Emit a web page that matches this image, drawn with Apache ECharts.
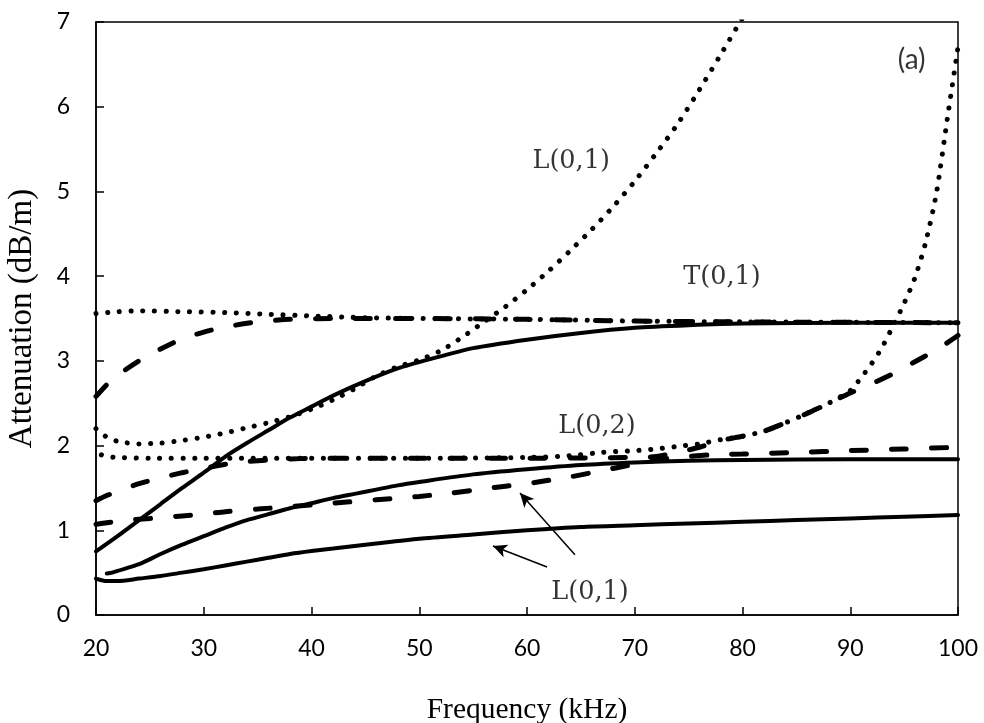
<!DOCTYPE html>
<html>
<head>
<meta charset="utf-8">
<script src="https://cdn.jsdelivr.net/npm/echarts@6/dist/echarts.min.js"></script>
<style>
html,body{margin:0;padding:0;background:#fff;}
#chart{width:984px;height:723px;}
</style>
</head>
<body>
<div id="chart"></div>
<script>
// ---- data (frequency kHz, attenuation dB/m) ----
const xTicks = [20, 30, 40, 50, 60, 70, 80, 90, 100];
const yTicks = [0, 1, 2, 3, 4, 5, 6, 7];

const t01Solid = [[20,0.75],[22,0.93],[24,1.12],[26,1.31],[28,1.5],[30,1.68],[32,1.87],[34,2.03],[36,2.18],[38,2.33],[40,2.46],[42,2.59],[45,2.76],[48,2.91],[51,3.02],[55,3.15],[60,3.25],[65,3.33],[70,3.39],[75,3.42],[80,3.44],[90,3.45],[100,3.45]];
const t01Dash = [[20,2.58],[21,2.72],[22,2.83],[24,3.0],[26,3.14],[28,3.26],[30,3.34],[32,3.4],[35,3.46],[38,3.49],[42,3.5],[50,3.5],[60,3.49],[70,3.47],[80,3.46],[100,3.45]];
const t01Dot = [[20,3.56],[22,3.58],[24,3.59],[28,3.58],[32,3.57],[36,3.55],[40,3.53],[45,3.51],[50,3.5],[60,3.49],[70,3.47],[80,3.46],[100,3.45]];

const l02Solid = [[21,0.49],[21.5,0.5],[22,0.52],[24,0.6],[26,0.72],[28,0.83],[30,0.93],[32,1.03],[34,1.12],[36,1.19],[38,1.26],[40,1.32],[42,1.38],[44,1.43],[46,1.48],[48,1.53],[50,1.57],[55,1.66],[60,1.72],[65,1.77],[70,1.8],[75,1.82],[80,1.83],[90,1.84],[100,1.84]];
const l02Dash = [[20,1.35],[21,1.41],[22,1.46],[24,1.55],[26,1.62],[28,1.68],[30,1.73],[32,1.78],[34,1.81],[36,1.83],[38,1.84],[40,1.85],[50,1.85],[60,1.85],[70,1.86],[72,1.87],[74,1.92],[76,1.98],[78,2.06],[80,2.11],[82,2.17],[84,2.27],[86,2.38],[88,2.5],[90,2.62],[92,2.73],[94,2.85],[96,2.99],[98,3.13],[100,3.3]];
const l02Dot = [[20.5,1.89],[21,1.87],[22,1.86],[25,1.85],[30,1.85],[40,1.85],[50,1.85],[60,1.86],[64,1.88],[67,1.92],[70,1.94],[72,1.96],[74,1.99],[76,2.02],[78,2.07],[80,2.11],[82,2.17],[84,2.27],[86,2.38],[88,2.5],[90,2.65],[91,2.8],[92,2.97],[93,3.17],[94,3.42],[95,3.68],[96,3.98],[97,4.4],[98,4.98],[99,5.85],[100,6.7]];

const l01Solid = [[20,0.43],[21,0.4],[22,0.4],[24,0.43],[26,0.46],[28,0.5],[30,0.54],[32,0.585],[34,0.63],[36,0.675],[38,0.72],[40,0.755],[42,0.785],[44,0.815],[46,0.845],[50,0.9],[55,0.95],[60,1.0],[65,1.04],[70,1.06],[75,1.08],[80,1.1],[85,1.12],[90,1.14],[95,1.16],[100,1.18]];
const l01Dash = [[20,1.07],[21,1.09],[23,1.12],[25,1.14],[28,1.17],[30,1.19],[32,1.22],[35,1.25],[38,1.28],[40,1.3],[43,1.33],[46,1.36],[48,1.38],[50,1.4],[53,1.44],[56,1.49],[58,1.52],[60,1.55],[62,1.59],[64,1.63],[66,1.68],[68,1.73],[70,1.78],[72,1.83],[74,1.86],[77,1.89],[80,1.9],[85,1.92],[90,1.94],[95,1.96],[100,1.98]];
const l01Dot = [[20,2.2],[21,2.1],[22,2.05],[24,2.02],[26,2.03],[28,2.06],[30,2.1],[32,2.15],[34,2.21],[36,2.27],[38,2.34],[40,2.43],[42,2.54],[44,2.67],[46,2.82],[48,2.93],[50,3.01],[52,3.12],[54,3.28],[56,3.46],[58,3.64],[60,3.84],[62,4.06],[64,4.3],[66,4.55],[68,4.82],[70,5.12],[72,5.45],[74,5.8],[76,6.2],[78,6.62],[80,7.05]];

// annotation texts and their anchor points (data coords)
const labelTexts = ['L(0,1)', 'T(0,1)', 'L(0,2)', 'L(0,1)', '(a)'];
const labelPoints = [[64.1,5.35],[78.1,3.98],[66.5,2.23],[65.85,0.27],[95.7,6.55]];
const arrowFrom = [[64.45,0.71],[61.86,0.567]];
const arrowTo = [[59.35,1.44],[56.84,0.815]];

// ---- styles ----
const solidStyle = {color:'#000', width:4, type:'solid', cap:'round'};
const dashStyle = {color:'#000', width:5, type:[15,25], cap:'round'};
const dotStyle = {color:'#000', width:5, type:[0.1,11.6], cap:'round'};

function lineSeries(name, data, style) {
  return {
    name, type:'line', data, showSymbol:false, symbol:'none',
    smooth:0.25, clip:true,
    lineStyle: style, silent:true, z:3
  };
}

const chart = echarts.init(document.getElementById('chart'), null, {renderer:'canvas'});

const labelData = labelTexts.map((t, i) => ({
  value: [labelPoints[i][0], labelPoints[i][1]],
  label: {
    show:true, position:'inside', formatter:t, color:'#000',
    fontFamily: t === '(a)' ? 'Lato' : 'DejaVu Serif',
    fontSize: t === '(a)' ? 28 : 25.5
  }
}));

const option = {
  animation:false,
  backgroundColor:'#fff',
  grid:{left:96, right:26, top:22, bottom:108, outerBoundsMode:'none', containLabel:false,
    show:true, borderColor:'#000', borderWidth:1.5, backgroundColor:'transparent'},
  xAxis:{
    type:'value', min:20, max:100, interval:10,
    name:'Frequency (kHz)', nameLocation:'middle', nameGap:80,
    nameTextStyle:{fontFamily:'Liberation Serif', fontSize:29.5, color:'#000'},
    axisLine:{show:true, lineStyle:{color:'#000', width:1.5}},
    axisTick:{show:true, inside:true, length:8, lineStyle:{color:'#000', width:1.5}},
    axisLabel:{fontFamily:'Lato', fontSize:23, color:'#000', margin:22,
      formatter: v => xTicks.includes(v) ? String(v) : ''},
    splitLine:{show:false}
  },
  yAxis:{
    type:'value', min:0, max:7, interval:1,
    name:'Attenuation (dB/m)', nameLocation:'middle', nameGap:57,
    nameTextStyle:{fontFamily:'Liberation Serif', fontSize:33, color:'#000'},
    axisLine:{show:true, lineStyle:{color:'#000', width:1.5}},
    axisTick:{show:true, inside:true, length:8, lineStyle:{color:'#000', width:1.5}},
    axisLabel:{fontFamily:'Lato', fontSize:23, color:'#000', margin:26,
      formatter: v => yTicks.includes(v) ? String(v) : ''},
    splitLine:{show:false}
  },
  series:[
    lineSeries('T(0,1) solid', t01Solid, solidStyle),
    lineSeries('T(0,1) dashed', t01Dash, dashStyle),
    lineSeries('T(0,1) dotted', t01Dot, dotStyle),
    lineSeries('L(0,2) solid', l02Solid, solidStyle),
    lineSeries('L(0,2) dashed', l02Dash, dashStyle),
    lineSeries('L(0,2) dotted', l02Dot, dotStyle),
    lineSeries('L(0,1) solid', l01Solid, solidStyle),
    lineSeries('L(0,1) dashed', l01Dash, dashStyle),
    lineSeries('L(0,1) dotted', l01Dot, dotStyle),
    {
      name:'labels', type:'scatter', symbolSize:0, data:labelData, silent:true, z:5,
      markLine:{
        silent:true, symbol:['none','arrow'], symbolSize:[10,14],
        label:{show:false},
        lineStyle:{color:'#000', width:1.5, type:'solid'},
        data: arrowFrom.map((p, i) => [{coord:p}, {coord:arrowTo[i]}])
      }
    }
  ]
};
chart.setOption(option);
</script>
</body>
</html>
